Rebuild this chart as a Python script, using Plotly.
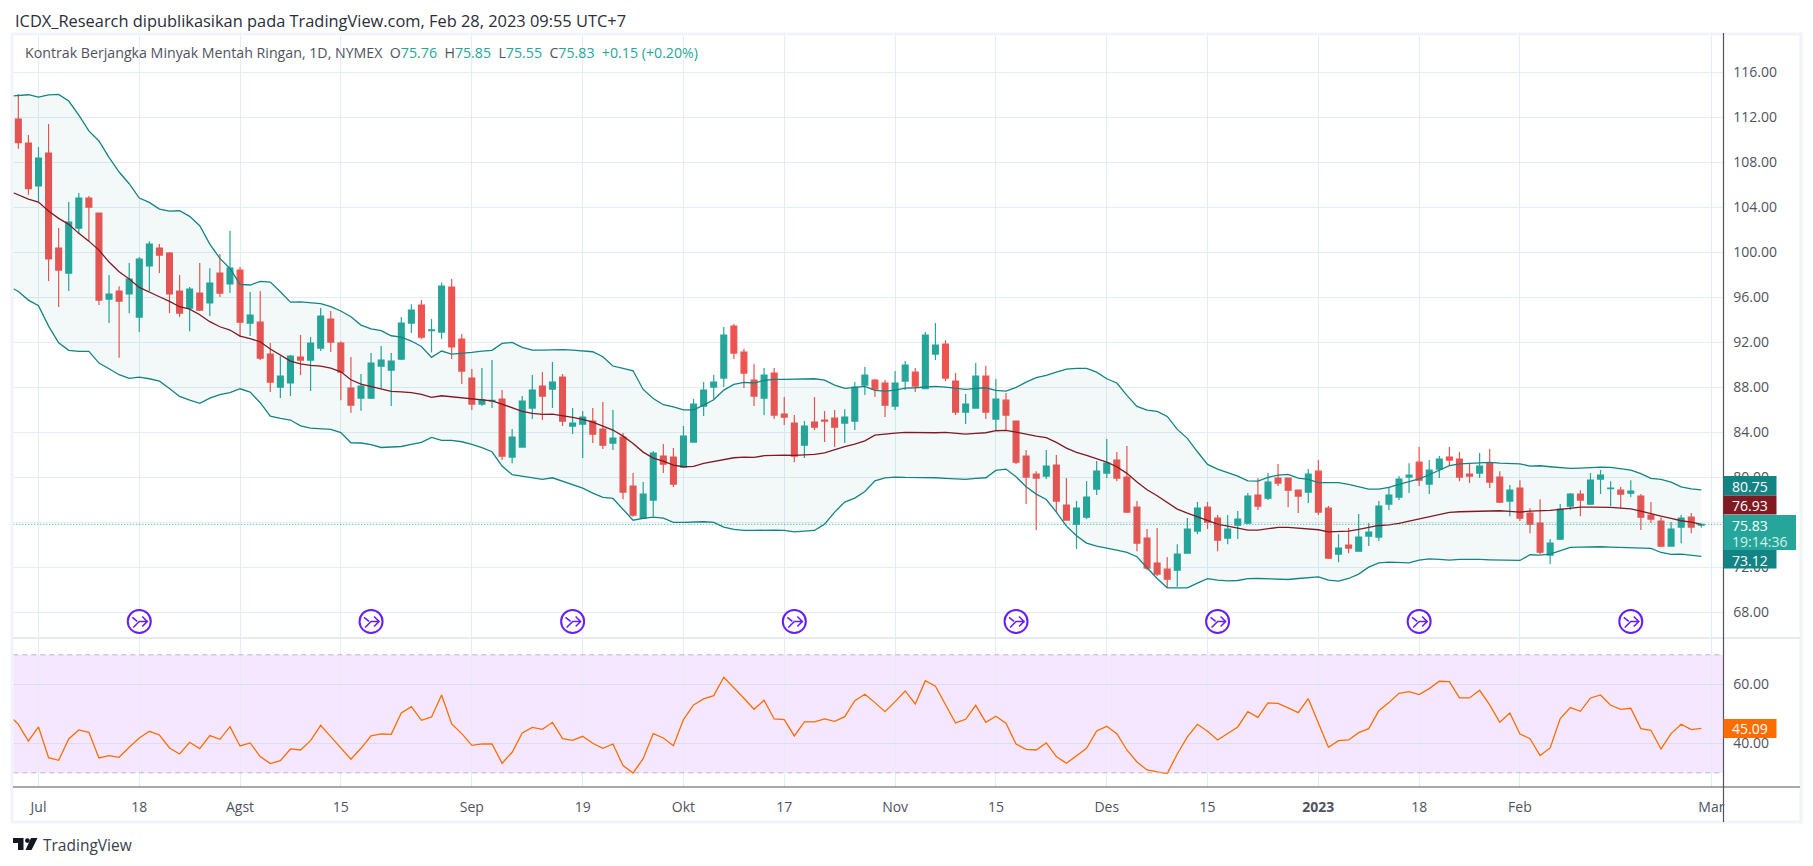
import plotly.graph_objects as go

# one value per daily bar (Jul 2022 .. Feb 28 2023)
opens = [
    111.85, 109.72, 105.9, 108.83, 100.39, 98.16, 102.16, 104.83, 103.5, 95.85,
    96.56, 96.3, 94.25, 98.79, 100.39, 99.94, 96.56, 95.05, 96.38, 95.5,
    98.16, 97.19, 98.43, 93.72, 93.8, 90.96, 88.03, 88.4, 90.7, 90.43,
    91.5, 94.07, 91.94, 87.94, 87.05, 87.05, 89.9, 89.54, 90.52, 93.72,
    95.32, 93.05, 92.92, 96.92, 92.3, 88.83, 86.52, 86.8, 86.96, 81.81,
    82.7, 86.16, 88.12, 87.85, 88.92, 84.56, 84.74, 85.01, 84.3, 83.05,
    83.59, 79.23, 76.36, 77.99, 81.9, 81.81, 80.92, 83.14, 86.34, 88.03,
    88.83, 93.45, 91.14, 88.65, 87.05, 89.27, 85.63, 84.83, 82.87, 84.92,
    85.1, 85.27, 84.83, 85.01, 88.21, 88.65, 88.39, 86.34, 88.56, 89.36,
    87.88, 90.96, 91.85, 88.56, 85.81, 86.16, 89.01, 85.19, 86.87, 85.01,
    81.9, 80.3, 80.12, 81.1, 77.54, 75.85, 76.47, 78.96, 80.39, 81.54,
    80.03, 77.36, 74.61, 72.39, 71.85, 71.76, 73.27, 75.23, 77.36, 76.39,
    74.61, 75.76, 75.94, 78.43, 78.16, 79.94, 79.94, 78.87, 78.7, 80.56,
    77.27, 73.19, 73.99, 73.45, 74.79, 74.7, 77.63, 78.25, 80.03, 81.36,
    79.41, 80.74, 81.81, 81.63, 80.3, 80.39, 81.27, 80.03, 77.9, 79.05,
    76.83, 75.94, 73.1, 74.52, 77.45, 78.52, 77.63, 79.85, 79.0, 78.87,
    78.6, 78.34, 76.65, 76.12, 73.9, 75.59, 76.47, 75.76,
]
highs = [
    114.07, 110.43, 109.36, 111.41, 102.16, 104.47, 105.27, 105.0, 103.5, 97.98,
    97.0, 99.05, 99.58, 101.0, 100.74, 100.03, 97.98, 96.92, 99.05, 98.6,
    99.85, 101.9, 98.7, 96.47, 96.56, 91.94, 90.78, 90.87, 92.65, 92.47,
    95.05, 94.79, 92.1, 90.7, 89.2, 91.05, 91.67, 91.05, 94.25, 95.4,
    95.76, 94.07, 97.33, 97.63, 92.74, 89.63, 89.72, 90.43, 87.76, 84.3,
    87.23, 89.1, 89.36, 90.25, 89.19, 86.16, 85.9, 86.16, 86.7, 85.99,
    83.94, 80.4, 79.59, 82.34, 82.96, 82.61, 84.56, 86.96, 88.47, 89.1,
    93.36, 93.63, 91.41, 90.07, 89.72, 89.72, 87.14, 85.54, 85.01, 87.14,
    85.9, 85.99, 86.07, 88.47, 89.81, 88.74, 88.65, 89.45, 90.34, 89.72,
    92.92, 93.72, 92.2, 89.27, 87.41, 90.16, 89.9, 88.74, 87.5, 85.01,
    82.43, 80.56, 82.43, 81.99, 79.94, 77.9, 79.67, 81.45, 83.41, 82.25,
    82.79, 77.9, 75.41, 75.5, 72.92, 74.07, 76.39, 77.81, 77.81, 76.65,
    76.65, 77.01, 78.61, 79.94, 80.39, 81.19, 79.94, 78.87, 80.74, 81.54,
    77.45, 74.96, 75.5, 76.74, 75.94, 77.9, 79.14, 80.12, 81.27, 82.7,
    81.54, 81.9, 82.7, 82.25, 81.27, 82.16, 82.52, 80.56, 79.32, 79.76,
    77.27, 78.07, 74.52, 77.63, 78.61, 78.87, 80.39, 80.65, 79.67, 79.14,
    79.76, 78.52, 77.81, 76.47, 76.03, 76.65, 76.83, 75.85,
]
lows = [
    109.2, 105.13, 104.53, 97.45, 95.14, 96.56, 101.63, 101.0, 95.32, 93.72,
    90.64, 94.6, 92.92, 96.56, 98.16, 94.6, 94.25, 93.0, 94.79, 94.34,
    96.03, 96.38, 92.5, 92.56, 90.43, 87.6, 87.05, 87.23, 89.1, 87.67,
    91.23, 91.14, 86.87, 85.74, 85.92, 86.96, 87.9, 86.34, 90.43, 92.83,
    92.3, 91.1, 92.3, 90.52, 88.3, 85.99, 86.34, 86.16, 81.54, 81.27,
    82.7, 85.19, 85.1, 86.16, 84.56, 83.85, 81.72, 83.05, 82.52, 82.43,
    78.07, 76.5, 76.3, 76.56, 80.4, 79.14, 80.92, 83.14, 85.45, 86.96,
    88.03, 90.52, 87.94, 86.34, 85.54, 85.19, 84.65, 81.36, 81.72, 84.21,
    83.14, 82.7, 83.05, 84.21, 87.32, 87.14, 85.36, 85.99, 87.76, 87.59,
    87.88, 90.43, 88.56, 85.54, 84.74, 86.16, 85.19, 84.21, 84.21, 81.19,
    77.63, 75.32, 79.85, 76.92, 76.21, 73.63, 76.3, 78.43, 79.94, 79.67,
    76.83, 73.45, 71.76, 71.23, 70.19, 70.28, 73.27, 74.96, 75.41, 73.45,
    74.07, 74.52, 75.85, 77.1, 77.99, 79.23, 77.36, 76.83, 77.72, 76.65,
    72.74, 72.47, 73.27, 73.45, 73.9, 74.34, 77.1, 77.99, 78.61, 79.23,
    78.52, 79.94, 81.1, 79.67, 79.5, 79.94, 79.05, 77.72, 76.56, 76.12,
    75.05, 73.19, 72.3, 74.43, 77.1, 76.56, 77.54, 78.52, 77.45, 77.27,
    78.25, 75.32, 75.94, 73.81, 73.9, 74.16, 75.05, 75.55,
]
closes = [
    109.75, 105.66, 108.39, 99.41, 98.43, 102.7, 104.83, 104.03, 95.76, 96.3,
    95.67, 97.63, 99.41, 100.74, 99.76, 96.3, 94.6, 96.74, 94.87, 97.27,
    96.38, 98.6, 93.8, 94.43, 90.6, 88.47, 89.0, 90.78, 90.43, 91.94,
    94.34, 92.03, 89.36, 86.43, 88.12, 90.16, 90.43, 90.34, 93.72, 94.87,
    92.47, 93.12, 97.0, 91.59, 89.45, 86.52, 86.9, 86.85, 81.9, 83.59,
    86.79, 87.76, 87.23, 88.47, 85.01, 84.83, 85.36, 83.85, 82.87, 83.5,
    78.7, 76.65, 78.52, 82.16, 81.19, 79.41, 83.67, 86.52, 87.76, 88.47,
    92.65, 91.05, 89.27, 87.23, 89.1, 85.54, 85.36, 81.9, 84.56, 84.47,
    85.01, 84.47, 85.36, 88.03, 89.1, 87.85, 86.43, 88.39, 89.99, 88.12,
    92.65, 91.76, 88.83, 85.81, 86.52, 89.01, 85.81, 86.96, 85.54, 81.36,
    80.03, 79.94, 81.01, 77.9, 76.21, 77.27, 78.25, 80.56, 81.27, 79.94,
    76.92, 74.16, 71.94, 71.41, 70.96, 73.19, 75.41, 77.27, 76.03, 74.43,
    75.41, 76.3, 78.34, 77.45, 79.59, 79.5, 78.87, 78.34, 80.3, 76.92,
    72.83, 73.72, 73.72, 74.7, 75.14, 77.45, 78.43, 79.85, 80.2, 79.76,
    80.65, 81.63, 81.54, 80.03, 80.12, 81.0, 79.59, 77.81, 78.87, 76.39,
    75.85, 73.36, 74.16, 77.19, 78.52, 77.99, 79.76, 80.2, 79.05, 78.52,
    78.79, 76.47, 76.3, 73.9, 75.4, 76.39, 75.59, 75.83,
]

# bollinger bands, first value is at the left edge of the pane
bb_upper = [
    113.9, 113.93, 114.01, 113.8, 113.99, 114.04, 113.45, 112.2, 110.8, 109.9,
    108.44, 107.14, 106.1, 104.83, 104.44, 103.85, 103.67, 103.7, 103.2, 102.37,
    100.74, 99.47, 98.57, 97.16, 97.1, 97.42, 97.36, 96.5, 95.58, 95.61,
    95.53, 95.44, 95.17, 94.79, 94.28, 93.54, 93.21, 93.04, 92.59, 92.47,
    92.12, 91.64, 90.67, 91.23, 90.96, 91.02, 91.11, 91.23, 91.29, 91.91,
    92.0, 91.56, 91.32, 91.32, 91.35, 91.35, 91.32, 91.23, 91.17, 90.73,
    89.9, 89.69, 89.48, 87.82, 87.02, 86.46, 86.28, 86.01, 86.01, 86.43,
    86.9, 87.76, 88.27, 88.44, 88.39, 88.62, 88.71, 88.71, 88.71, 88.74,
    88.77, 88.65, 88.21, 87.91, 88.03, 88.09, 87.73, 87.67, 87.76, 87.94,
    87.97, 88.0, 88.09, 88.03, 87.94, 87.82, 87.91, 87.97, 87.73, 87.67,
    88.0, 88.47, 88.86, 89.07, 89.36, 89.63, 89.69, 89.69, 89.36, 88.77,
    88.39, 87.29, 86.31, 85.99, 85.87, 85.42, 84.27, 83.47, 82.28, 81.16,
    80.74, 80.44, 80.12, 79.7, 79.67, 80.0, 80.21, 80.27, 79.94, 79.82,
    79.53, 79.53, 79.53, 79.38, 79.17, 78.96, 78.96, 79.11, 79.38, 79.64,
    79.88, 80.24, 80.65, 81.04, 81.21, 81.27, 81.3, 81.33, 81.27, 81.21,
    81.21, 81.01, 81.04, 80.95, 80.86, 80.8, 80.83, 80.89, 80.92, 80.89,
    80.77, 80.65, 80.33, 79.91, 79.82, 79.59, 79.17, 78.99, 78.9,
]
bb_basis = [
    105.3, 105.1, 104.74, 104.47, 103.67, 103.02, 102.49, 101.69, 101.0, 100.2,
    99.14, 98.28, 97.63, 96.89, 96.44, 96.06, 95.64, 95.17, 94.96, 94.46,
    93.84, 93.39, 93.1, 92.56, 92.33, 92.06, 91.41, 90.87, 90.34, 90.1,
    89.96, 89.9, 89.72, 89.39, 88.68, 88.3, 88.06, 87.85, 87.64, 87.61,
    87.53, 87.38, 87.11, 87.26, 87.17, 87.11, 87.05, 86.9, 86.81, 86.52,
    86.19, 85.87, 85.69, 85.6, 85.63, 85.51, 85.33, 85.16, 84.92, 84.56,
    84.21, 83.67, 83.02, 82.25, 81.72, 81.45, 81.1, 80.95, 80.98, 81.25,
    81.42, 81.63, 81.75, 81.81, 81.78, 81.93, 81.99, 81.99, 81.96, 81.99,
    82.04, 82.19, 82.49, 82.73, 82.96, 83.25, 83.76, 83.88, 83.94, 84.0,
    83.97, 83.97, 83.97, 84.0, 83.94, 83.85, 83.91, 83.97, 84.15, 84.18,
    84.03, 83.82, 83.67, 83.53, 83.11, 82.61, 82.22, 81.96, 81.66, 81.36,
    80.95, 80.36, 79.59, 78.9, 78.37, 77.81, 77.19, 76.83, 76.5, 76.12,
    75.85, 75.67, 75.5, 75.32, 75.32, 75.47, 75.56, 75.56, 75.5, 75.41,
    75.35, 75.17, 75.17, 75.23, 75.38, 75.56, 75.73, 75.79, 75.91, 76.12,
    76.33, 76.53, 76.74, 76.89, 76.95, 76.98, 77.01, 77.04, 77.04, 76.98,
    76.92, 77.01, 77.01, 77.07, 77.16, 77.27, 77.36, 77.36, 77.36, 77.33,
    77.27, 77.21, 77.01, 76.77, 76.56, 76.36, 76.15, 76.03, 75.82,
]
bb_lower = [
    96.77, 96.53, 95.76, 95.26, 93.45, 91.97, 91.29, 91.2, 91.2, 90.16,
    89.66, 89.13, 88.8, 88.92, 88.77, 88.56, 87.91, 87.2, 86.87, 86.58,
    87.05, 87.35, 87.53, 87.88, 87.58, 86.64, 85.45, 85.24, 85.1, 84.59,
    84.39, 84.36, 84.27, 83.99, 83.08, 83.06, 82.91, 82.66, 82.69, 82.75,
    82.94, 83.12, 83.56, 83.29, 83.29, 83.17, 82.93, 82.64, 82.28, 81.01,
    80.24, 80.1, 79.94, 79.82, 79.97, 79.67, 79.32, 79.05, 78.61, 78.22,
    78.13, 77.18, 76.2, 76.36, 76.47, 76.39, 76.0, 76.0, 76.03, 76.06,
    76.0, 75.58, 75.38, 75.29, 75.29, 75.32, 75.32, 75.29, 75.17, 75.23,
    75.29, 75.85, 76.92, 77.81, 78.16, 78.75, 79.7, 79.97, 80.03, 80.0,
    80.0, 80.0, 79.97, 79.91, 79.88, 79.82, 79.91, 79.97, 80.62, 80.74,
    80.06, 79.17, 78.52, 78.04, 76.92, 75.67, 74.81, 74.16, 73.9, 73.75,
    73.54, 73.33, 72.95, 71.97, 71.02, 70.19, 70.16, 70.19, 70.61, 71.0,
    70.87, 70.81, 70.84, 71.0, 71.02, 71.0, 70.93, 70.93, 71.02, 71.11,
    71.17, 70.87, 70.79, 71.02, 71.41, 72.03, 72.41, 72.47, 72.41, 72.41,
    72.65, 72.77, 72.71, 72.65, 72.71, 72.74, 72.71, 72.68, 72.65, 72.65,
    72.62, 73.13, 73.1, 73.19, 73.48, 73.78, 73.81, 73.84, 73.84, 73.81,
    73.78, 73.75, 73.72, 73.69, 73.33, 73.16, 73.19, 73.1, 72.98,
]
rsi = [
    48.14, 46.44, 40.79, 45.54, 35.14, 34.24, 41.47, 44.52, 43.73, 35.03,
    35.82, 35.25, 38.64, 41.81, 44.07, 42.82, 38.42, 36.38, 40.34, 38.19,
    42.6, 41.36, 45.65, 39.1, 40.11, 35.48, 33.11, 34.12, 38.08, 37.74,
    40.9, 46.1, 42.26, 38.42, 34.58, 38.31, 42.49, 43.16, 43.05, 50.28,
    52.43, 47.8, 48.93, 56.38, 46.55, 43.28, 39.32, 39.77, 39.77, 33.22,
    36.95, 43.5, 45.42, 44.75, 47.12, 41.58, 41.0, 42.37, 40.0, 38.3,
    39.77, 32.43, 29.94, 34.8, 43.28, 41.81, 39.2, 48.02, 53.0, 55.03,
    56.16, 62.37, 58.98, 55.25, 51.53, 54.58, 48.25, 48.02, 42.49, 47.23,
    47.23, 48.25, 47.46, 49.04, 54.46, 56.61, 53.79, 50.73, 54.12, 57.74,
    53.33, 61.24, 59.32, 53.0, 46.89, 48.14, 52.88, 47.12, 49.15, 46.78,
    39.77, 37.97, 37.74, 40.11, 35.48, 33.22, 35.7, 38.3, 44.18, 45.76,
    43.28, 37.74, 33.67, 30.96, 30.28, 29.72, 36.38, 42.15, 46.44, 44.07,
    41.13, 43.39, 45.54, 50.73, 48.81, 53.67, 53.56, 51.98, 50.4, 55.14,
    46.78, 38.64, 40.9, 41.13, 43.62, 44.97, 51.07, 53.79, 56.95, 57.51,
    56.5, 58.53, 61.02, 60.9, 55.37, 55.37, 57.97, 53.0, 47.12, 50.28,
    43.16, 41.58, 35.82, 38.42, 48.36, 52.09, 50.85, 55.37, 56.38, 52.88,
    51.53, 51.86, 44.97, 44.41, 38.08, 43.28, 46.44, 44.63, 45.09,
]

price_ticks = [68, 72, 76, 80, 84, 88, 92, 96, 100, 104, 108, 112, 116]
rsi_ticks = [40, 60]
rsi_band = [30, 70]
date_ticks = [2, 12, 22, 32, 45, 56, 66, 76, 87, 97, 108, 118, 129, 139, 149, 168]
date_labels = ["Jul", "18", "Agst", "15", "Sep", "19", "Okt", "17", "Nov", "15",
               "Des", "15", "<b>2023</b>", "18", "Feb", "Mar"]
event_bars = [12, 35, 55, 77, 99, 119, 139, 160]
event_price = 67.2
last_close = 75.83

W, H = 1813, 866
FONT = "Open Sans, sans-serif"
GRID = "#e4edf3"
TEAL = "#138484"
GREEN = "#26a69a"
RED = "#ef5350"
AXIS_DARK = "#50535e"
TEXT = "#50535e"

bars = list(range(len(closes)))
line_x = [-0.5] + bars


def px(x):
    return x / W


def py(y):
    return 1 - y / H


def paper_line(x0, y0, x1, y1, color, width=1):
    return dict(type="line", xref="paper", yref="paper", x0=px(x0), x1=px(x1), y0=py(y0), y1=py(y1),
                line=dict(color=color, width=width))


def paper_rect(x0, y0, x1, y1, fill):
    return dict(type="rect", xref="paper", yref="paper", x0=px(x0), x1=px(x1), y0=py(y0), y1=py(y1),
                fillcolor=fill, line=dict(width=0))


def label(text, x, y, size=14, color="white", anchor="center"):
    return dict(text=text, xref="paper", yref="paper", x=px(x), y=py(y), showarrow=False,
                xanchor=anchor, yanchor="middle", font=dict(family=FONT, size=size, color=color))


fig = go.Figure()

# band fill and lines
fig.add_trace(go.Scatter(x=line_x, y=bb_upper, mode="lines", line=dict(color=TEAL, width=1.3),
                         xaxis="x", yaxis="y", hoverinfo="skip"))
fig.add_trace(go.Scatter(x=line_x, y=bb_lower, mode="lines", line=dict(color=TEAL, width=1.3),
                         fill="tonexty", fillcolor="rgba(19,132,132,0.05)",
                         xaxis="x", yaxis="y", hoverinfo="skip"))
fig.add_trace(go.Scatter(x=line_x, y=bb_basis, mode="lines", line=dict(color="#801922", width=1.3),
                         xaxis="x", yaxis="y", hoverinfo="skip"))

fig.add_trace(go.Candlestick(
    x=bars, open=opens, high=highs, low=lows, close=closes, whiskerwidth=0,
    increasing=dict(line=dict(color=GREEN, width=1.2), fillcolor=GREEN),
    decreasing=dict(line=dict(color=RED, width=1.2), fillcolor=RED),
    xaxis="x", yaxis="y",
))

# event badges at the bottom of the price pane
fig.add_trace(go.Scatter(
    x=event_bars, y=[event_price] * len(event_bars), mode="markers",
    marker=dict(symbol="circle", size=23, color="white", line=dict(color="#651fff", width=2)),
    xaxis="x", yaxis="y", hoverinfo="skip",
))

fig.add_trace(go.Scatter(x=line_x, y=rsi, mode="lines", line=dict(color="#ff6d00", width=1.3),
                         xaxis="x2", yaxis="y2", hoverinfo="skip"))

shapes = [
    # rsi background and its dashed limits
    dict(type="rect", xref="x2 domain", yref="y2", x0=0, x1=1, y0=rsi_band[0], y1=rsi_band[1],
         fillcolor="rgba(153,21,255,0.1)", line=dict(width=0), layer="below"),
    dict(type="line", xref="x2 domain", yref="y2", x0=0, x1=1, y0=rsi_band[0], y1=rsi_band[0],
         line=dict(color="#bfaecd", width=1, dash="5px,4px")),
    dict(type="line", xref="x2 domain", yref="y2", x0=0, x1=1, y0=rsi_band[1], y1=rsi_band[1],
         line=dict(color="#bfaecd", width=1, dash="5px,4px")),
    # last price
    dict(type="line", xref="x domain", yref="y", x0=0, x1=1, y0=last_close, y1=last_close,
         line=dict(color=GREEN, width=1, dash="1px,2px")),
    # frame and pane separators
    dict(type="rect", xref="paper", yref="paper", x0=px(12), x1=px(1801), y0=py(34), y1=py(822),
         line=dict(color="#f0f3fa", width=3)),
    paper_line(13, 638, 1800, 638, "#e6e9f0", 2),
    paper_line(13, 787, 1800, 787, AXIS_DARK, 1.2),
    paper_line(1723.5, 33, 1723.5, 822, AXIS_DARK, 1.2),
    # price scale labels
    paper_rect(1723.5, 476, 1776.5, 495.5, TEAL),
    paper_rect(1723.5, 495.5, 1776.5, 514.5, "#801922"),
    paper_rect(1723.5, 515, 1796, 550, GREEN),
    paper_rect(1723.5, 550, 1776.5, 568.5, TEAL),
    paper_rect(1723.5, 719, 1776.5, 738, "#ff6d00"),
    # tradingview logo
    dict(type="path", xref="paper", yref="paper", fillcolor="#131722", line=dict(width=0),
         path="M {} {} L {} {} L {} {} L {} {} L {} {} L {} {} Z".format(
             px(13), py(838), px(23.5), py(838), px(23.5), py(850),
             px(18), py(850), px(18), py(843), px(13), py(843))),
    dict(type="path", xref="paper", yref="paper", fillcolor="#131722", line=dict(width=0),
         path="M {} {} L {} {} L {} {} L {} {} Z".format(
             px(31), py(838), px(37.5), py(838), px(31.5), py(850), px(25.5), py(850))),
    dict(type="circle", xref="paper", yref="paper", fillcolor="#131722", line=dict(width=0),
         x0=px(25), x1=px(29.8), y0=py(843), y1=py(838.2)),
]

# arrow glyph inside each badge, sized in pixels
for bar in event_bars:
    shapes.append(dict(
        type="path", xsizemode="pixel", ysizemode="pixel", xref="x", yref="y",
        xanchor=bar, yanchor=event_price,
        path="M -7 4 L -2 0 M -6 -6 L 0 0 L 7 0 M 3 5 L 8 0 L 3 -5",
        line=dict(color="#651fff", width=1.6),
    ))

header = ("<span style='color:#50535e'>Kontrak Berjangka Minyak Mentah Ringan, 1D, NYMEX&nbsp;&nbsp;O</span>75.76"
          "&nbsp;&nbsp;<span style='color:#50535e'>H</span>75.85"
          "&nbsp;&nbsp;<span style='color:#50535e'>L</span>75.55"
          "&nbsp;&nbsp;<span style='color:#50535e'>C</span>75.83&nbsp;&nbsp;+0.15 (+0.20%)")

annotations = [
    label("ICDX_Research dipublikasikan pada TradingView.com, Feb 28, 2023 09:55 UTC+7",
          13, 20, size=16.4, color="#2a2e39", anchor="left"),
    label(header, 23, 53, size=14.2, color=GREEN, anchor="left"),
    label("TradingView", 41, 845, size=15.5, color="#3a3e4a", anchor="left"),
    label("80.75", 1750, 486),
    label("76.93", 1750, 505),
    label("75.83", 1750, 525),
    label("19:14:36", 1759, 541, color="#d4eeeb"),
    label("73.12", 1750, 560),
    label("45.09", 1750, 728.5),
]

fig.update_layout(
    width=W, height=H, autosize=False,
    margin=dict(l=0, r=0, t=0, b=0),
    paper_bgcolor="white", plot_bgcolor="white",
    showlegend=False,
    boxgap=0.42, boxgroupgap=0,
    font=dict(family=FONT, size=14, color=TEXT),
    shapes=shapes,
    annotations=annotations,
    xaxis=dict(domain=[px(13.3), px(1723.5)], range=[-0.5, 169.2], anchor="y",
               tickmode="array", tickvals=date_ticks, showticklabels=False, showgrid=True, gridcolor=GRID,
               zeroline=False, rangeslider=dict(visible=False), ticks=""),
    yaxis=dict(domain=[py(638), py(36)], range=[65.73, 119.23], side="right", anchor="x",
               tickmode="array", tickvals=price_ticks, tickformat=".2f", showgrid=True, gridcolor=GRID,
               zeroline=False, ticks="outside", ticklen=6, tickcolor="rgba(0,0,0,0)"),
    xaxis2=dict(domain=[px(13.3), px(1723.5)], range=[-0.5, 169.2], anchor="y2",
                tickmode="array", tickvals=date_ticks, ticktext=date_labels, showgrid=True, gridcolor=GRID,
                zeroline=False, ticks="outside", ticklen=7, tickcolor="rgba(0,0,0,0)"),
    yaxis2=dict(domain=[py(787), py(638)], range=[25.19, 75.69], side="right", anchor="x2",
                tickmode="array", tickvals=rsi_ticks, tickformat=".2f", showgrid=True, gridcolor="#e0dcf0",
                zeroline=False, ticks="outside", ticklen=6, tickcolor="rgba(0,0,0,0)"),
)

fig.write_html("out.html", config=dict(displayModeBar=False),
               post_script="document.body.style.margin='0';document.body.style.overflow='hidden';")
